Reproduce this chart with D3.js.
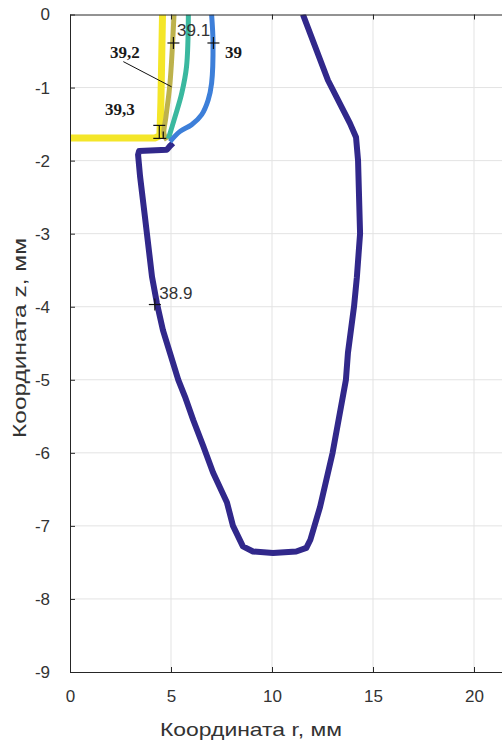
<!DOCTYPE html>
<html>
<head>
<meta charset="utf-8">
<script src="https://cdn.jsdelivr.net/npm/d3@7"></script>
<style>
	body { margin: 0; background: #fff; }
	svg { display: block; font-family: 'Liberation Sans', Arial, sans-serif; }
</style>
</head>
<body>
<svg id="chart" width="502" height="744"></svg>
<script>
const W = 502
const H = 744

// isotherm contours, r and z in mm (levels 38.9 .. 39.3)
const curve389 = [
	[11.53, 0], [12.77, -0.9], [13.86, -1.49], [14.16, -1.68], [14.26, -2.0], [14.36, -3.0],
	[14.2, -3.6], [14.06, -4.0], [13.76, -4.63], [13.66, -5.0], [13.0, -6.0], [12.38, -6.74],
	[11.9, -7.19], [11.7, -7.3], [11.2, -7.35], [10.05, -7.37], [9.06, -7.35], [8.56, -7.28],
	[8.07, -7.0], [7.77, -6.68], [7.08, -6.27], [6.6, -5.91], [6.1, -5.55], [5.69, -5.23],
	[5.36, -5.0], [4.6, -4.32], [4.3, -3.95], [4.06, -3.59], [3.71, -2.77], [3.47, -2.22],
	[3.37, -1.92], [3.42, -1.87], [4.8, -1.85], [4.95, -1.8], [5.1, -1.76]
]
const curve39 = [
	[7.01, 0], [7.08, -0.39], [7.01, -0.94], [6.84, -1.17], [6.52, -1.37], [6.02, -1.51],
	[5.45, -1.6], [4.95, -1.74]
]
const curve391 = [
	[5.86, 0], [5.77, -0.71], [5.53, -1.08], [5.2, -1.4], [4.87, -1.7]
]
const curve392 = [
	[5.15, 0], [4.95, -0.94], [4.75, -1.4], [4.65, -1.63], [4.8, -1.72]
]
const curve393 = [
	[4.58, 0], [4.5, -1.2], [4.45, -1.66], [4.2, -1.69], [0, -1.69]
]

const series = [
	{ name: '38.9', points: curve389, color: '#31288b', width: 6, smooth: false },
	{ name: '39.3', points: curve393, color: '#f4e629', width: 7, smooth: false },
	{ name: '39.2', points: curve392, color: '#bdb24c', width: 5, smooth: true },
	{ name: '39.1', points: curve391, color: '#3ab89f', width: 5, smooth: true },
	{ name: '39', points: curve39, color: '#3d7fd9', width: 5, smooth: true },
]

// contour label markers (+)
const markers = [[5.12, -0.39], [7.1, -0.39], [4.2, -3.97]]
const beamMarker = [4.42, -1.6]

// labels: text, r, z, style
const labelText = ['39.1', '38.9', '39,2', '39,3', '39']
const labelPos = [[5.3, -0.3], [4.42, -3.9], [1.98, -0.595], [1.73, -1.375], [7.67, -0.6]]
const labelBold = [false, false, true, true, true]
const leader = [[2.64, -0.645], [5.03, -0.99]]

const xTicks = [0, 5, 10, 15, 20]
const yTicks = [0, -1, -2, -3, -4, -5, -6, -7, -8, -9]

const x = d3.scaleLinear().domain([0, 25]).range([70, 575])
const y = d3.scaleLinear().domain([-9, 0]).range([672, 14.5])

const svg = d3.select('#chart')

svg.append('rect').attr('width', W).attr('height', H).attr('fill', '#fff')

const defs = svg.append('defs')
defs.append('clipPath').attr('id', 'plot-clip')
	.append('rect')
	.attr('x', x(0)).attr('y', y(0))
	.attr('width', x(25) - x(0)).attr('height', y(-9) - y(0))

// grid
const grid = svg.append('g').attr('class', 'grid')
grid.selectAll('.gx').data(xTicks.slice(1))
	.enter().append('line')
	.attr('x1', d => x(d)).attr('x2', d => x(d))
	.attr('y1', y(0)).attr('y2', y(-9))
	.attr('stroke', '#e3e3e3').attr('stroke-width', 1)
grid.selectAll('.gy').data(yTicks.slice(1, -1))
	.enter().append('line')
	.attr('x1', x(0)).attr('x2', x(25))
	.attr('y1', d => y(d)).attr('y2', d => y(d))
	.attr('stroke', '#e3e3e3').attr('stroke-width', 1)

// curves
const line = d3.line().x(d => x(d[0])).y(d => y(d[1]))
const smoothLine = d3.line().x(d => x(d[0])).y(d => y(d[1])).curve(d3.curveCatmullRom.alpha(0.5))
const curves = svg.append('g').attr('clip-path', 'url(#plot-clip)')
curves.selectAll('path').data(series)
	.enter().append('path')
	.attr('d', d => d.smooth ? smoothLine(d.points) : line(d.points))
	.attr('fill', 'none')
	.attr('stroke', d => d.color)
	.attr('stroke-width', d => d.width)
	.attr('stroke-linejoin', 'round')
	.attr('stroke-linecap', 'butt')

// axes
const axisColor = '#262626'
const fmt = d => String(d)
const axisB = d3.axisBottom(x).tickValues(xTicks).tickSizeInner(-5).tickSizeOuter(0).tickPadding(18).tickFormat(fmt)
const axisT = d3.axisTop(x).tickValues(xTicks).tickSizeInner(-5).tickSizeOuter(0).tickFormat('')
const axisL = d3.axisLeft(y).tickValues(yTicks).tickSizeInner(-5).tickSizeOuter(0).tickPadding(20).tickFormat(fmt)

function styleAxis(g) {
	g.select('.domain').attr('stroke', axisColor)
	g.selectAll('.tick line').attr('stroke', axisColor)
	g.selectAll('.tick text')
		.attr('fill', '#333')
		.style('font-size', '17px')
		.style('font-family', "'Liberation Sans', Arial, sans-serif")
}

svg.append('g').attr('transform', `translate(0,${y(-9)})`).call(axisB).call(styleAxis)
svg.append('g').attr('transform', `translate(0,${y(0)})`).call(axisT).call(styleAxis)
svg.append('g').attr('transform', `translate(${x(0)},0)`).call(axisL).call(styleAxis)

// axis titles
svg.append('text')
	.attr('x', 251).attr('y', 736)
	.attr('text-anchor', 'middle')
	.attr('fill', '#333')
	.style('font-size', '19px')
	.attr('textLength', 182)
	.attr('lengthAdjust', 'spacingAndGlyphs')
	.text('Координата r, мм')

svg.append('text')
	.attr('transform', `translate(26,338) rotate(-90)`)
	.attr('text-anchor', 'middle')
	.attr('fill', '#333')
	.style('font-size', '19px')
	.attr('textLength', 200)
	.attr('lengthAdjust', 'spacingAndGlyphs')
	.text('Координата z, мм')

// leader line
svg.append('line')
	.attr('x1', x(leader[0][0])).attr('y1', y(leader[0][1]))
	.attr('x2', x(leader[1][0])).attr('y2', y(leader[1][1]))
	.attr('stroke', '#111').attr('stroke-width', 1)

// + markers
const mk = svg.append('g').attr('stroke', '#111').attr('stroke-width', 1.2)
markers.forEach(m => {
	mk.append('line').attr('x1', x(m[0]) - 6).attr('x2', x(m[0]) + 6)
		.attr('y1', y(m[1])).attr('y2', y(m[1]))
	mk.append('line').attr('x1', x(m[0])).attr('x2', x(m[0]))
		.attr('y1', y(m[1]) - 6).attr('y2', y(m[1]) + 6)
})
// marker partly hidden at the 39.3 corner
const bx = x(beamMarker[0])
const by = y(beamMarker[1])
mk.append('line').attr('x1', bx - 6).attr('x2', bx + 6).attr('y1', by - 6).attr('y2', by - 6)
mk.append('line').attr('x1', bx - 6).attr('x2', bx + 7).attr('y1', by + 7).attr('y2', by + 7)
mk.append('line').attr('x1', bx).attr('x2', bx).attr('y1', by - 6).attr('y2', by + 7)
mk.append('line').attr('x1', bx + 4).attr('x2', bx + 4).attr('y1', by).attr('y2', by + 7)

// contour labels
svg.append('g').selectAll('text').data(labelText)
	.enter().append('text')
	.attr('x', (d, i) => x(labelPos[i][0]))
	.attr('y', (d, i) => y(labelPos[i][1]))
	.attr('fill', (d, i) => labelBold[i] ? '#1a1a1a' : '#333')
	.style('font-family', (d, i) => labelBold[i] ? "'Liberation Serif', 'Times New Roman', serif" : "'Liberation Sans', Arial, sans-serif")
	.style('font-weight', (d, i) => labelBold[i] ? 'bold' : 'normal')
	.style('font-size', '17px')
	.text(d => d)
</script>
</body>
</html>
